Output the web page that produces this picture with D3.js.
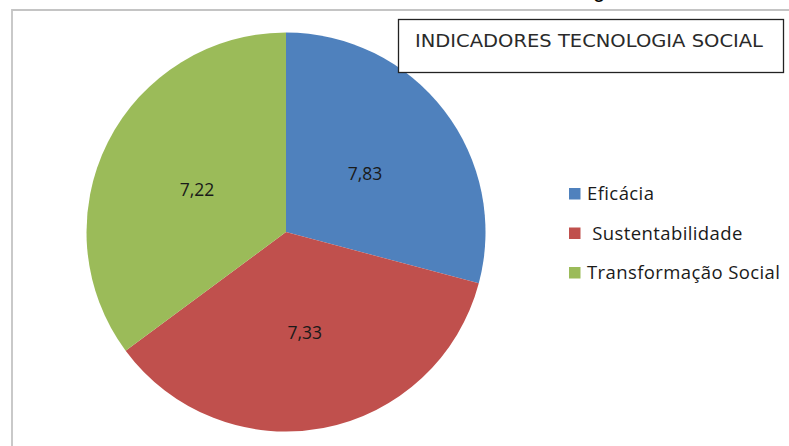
<!DOCTYPE html>
<html>
<head>
<meta charset="utf-8">
<script src="https://cdn.jsdelivr.net/npm/d3@7"></script>
<style>
  html, body { margin: 0; padding: 0; background: #fff; }
  svg { display: block; }
</style>
</head>
<body>
<svg id="chart" width="789" height="446"></svg>
<script>
// Data
const categories = ["Eficácia", " Sustentabilidade", "Transformação Social"];
const sliceShares = [29.14, 35.72, 35.14];   // slice sizes as drawn in the picture (%)
const valueLabels = ["7,83", "7,33", "7,22"]; // numbers printed on the slices
const colors = ["#4F81BD", "#C0504D", "#9BBB59"];
const title = "INDICADORES TECNOLOGIA SOCIAL";

const svg = d3.select("#chart");

// outer chart-area border (partially off-canvas)
svg.append("path")
  .attr("d", "M12,450 L12,10 L795,10")
  .attr("fill", "none")
  .attr("stroke", "#c4c4c4")
  .attr("stroke-width", 1.8);

// cut-off heading above the chart (only descender visible)
svg.append("text")
  .attr("x", 593).attr("y", -3)
  .attr("font-family", "Liberation Sans, Arial, sans-serif")
  .attr("font-size", 22)
  .attr("fill", "#000")
  .text("g");

// Pie
const cx = 286, cy = 232, r = 199.5;
const pie = d3.pie().sort(null).value(d => d).startAngle(0).endAngle(2 * Math.PI);
const arcs = pie(sliceShares);
const arc = d3.arc().innerRadius(0).outerRadius(r);

const g = svg.append("g").attr("transform", `translate(${cx},${cy})`);
g.selectAll("path.slice")
  .data(arcs)
  .join("path")
  .attr("class", "slice")
  .attr("d", arc)
  .attr("fill", (d, i) => colors[i]);

g.selectAll("text.lbl")
  .data(arcs)
  .join("text")
  .attr("class", "lbl")
  .attr("x", d => arc.centroid(d)[0])
  .attr("y", d => arc.centroid(d)[1] + 2)
  .attr("text-anchor", "middle")
  .attr("dominant-baseline", "central")
  .attr("font-family", "Open Sans, sans-serif")
  .attr("font-size", 17.5)
  .attr("fill", "#1a1a1a")
  .text((d, i) => valueLabels[i]);

// Title box
svg.append("rect")
  .attr("x", 398.5).attr("y", 19.5)
  .attr("width", 385).attr("height", 53)
  .attr("fill", "#fff")
  .attr("stroke", "#222")
  .attr("stroke-width", 1.3);
svg.append("text")
  .attr("x", 415).attr("y", 47)
  .attr("font-family", "DejaVu Sans, sans-serif")
  .attr("font-size", 17.5)
  .attr("fill", "#2a2a2a")
  .attr("textLength", 348)
  .attr("lengthAdjust", "spacingAndGlyphs")
  .text(title);

// Legend
const ly = d3.scalePoint().domain(categories).range([193.5, 272.5]);
const leg = svg.append("g");
const items = leg.selectAll("g.item")
  .data(categories)
  .join("g")
  .attr("class", "item")
  .attr("transform", d => `translate(569,${ly(d)})`);
items.append("rect")
  .attr("x", 0).attr("y", -5.5)
  .attr("width", 11.5).attr("height", 11.5)
  .attr("fill", (d, i) => colors[i]);
items.append("text")
  .attr("x", 18).attr("y", 6.8)
  .attr("xml:space", "preserve")
  .style("white-space", "pre")
  .attr("font-family", "Open Sans, sans-serif")
  .attr("font-size", 18.5)
  .attr("letter-spacing", 0.4)
  .attr("fill", "#1a1a1a")
  .text(d => d);
</script>
</body>
</html>
